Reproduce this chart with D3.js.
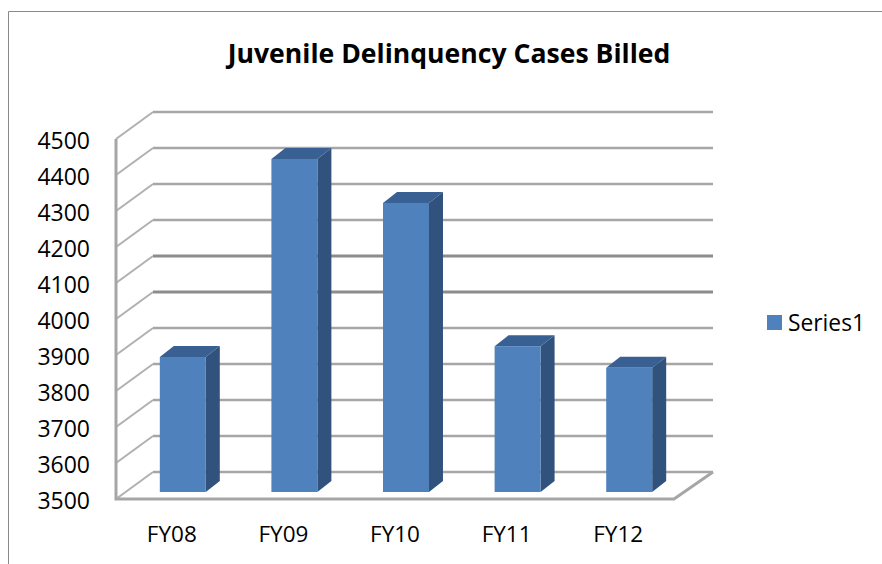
<!DOCTYPE html>
<html>
<head>
<meta charset="utf-8">
<script src="https://cdn.jsdelivr.net/npm/d3@7"></script>
<style>
  html, body { margin: 0; padding: 0; background: #fff; overflow: hidden; }
  svg { display: block; }
  text { font-family: "Open Sans", sans-serif; fill: #000; }
</style>
</head>
<body>
<div id="chart"></div>
<script>
// DATA
var categories = ["FY08", "FY09", "FY10", "FY11", "FY12"]
var values = [3875, 4425, 4303, 3905, 3845]
var yTicks = [3500, 3600, 3700, 3800, 3900, 4000, 4100, 4200, 4300, 4400, 4500]
var heavyTicks = [4000, 4100]
var seriesName = "Series1"
var titleText = "Juvenile Delinquency Cases Billed"

var width = 882, height = 564

// wall depth and bar depth, in pixels
var wall = {dx: 37, dy: -27}
var barDepth = {dx: 14, dy: -11}
var barShift = {dx: 11, dy: -7}

var x = d3.scaleBand().domain(categories).range([116, 674]).paddingInner(0.588).paddingOuter(0.294)
var y = d3.scaleLinear().domain([3500, 4500]).range([499, 139])

var svg = d3.select("#chart").append("svg")
  .attr("width", width)
  .attr("height", height)

// outer frame, only left and top show
svg.append("path")
  .attr("d", "M8.5,564V11.5H882")
  .attr("fill", "none")
  .attr("stroke", "#8a8a8a")
  .attr("stroke-width", 1)

svg.append("text")
  .attr("x", 449)
  .attr("y", 63)
  .attr("text-anchor", "middle")
  .style("font-size", "26.6px")
  .style("font-weight", 700)
  .text(titleText)

// GRIDLINES
var grid = svg.append("g").attr("fill", "none").attr("stroke", "#a6a6a6")

// side wall part
grid.selectAll(".diag")
  .data(yTicks)
  .enter().append("path")
    .attr("class", "diag")
    .attr("stroke-width", 2)
    .attr("stroke", "#b0b0b0")
    .attr("d", d => d3.line()([
      [x.range()[0], y(d)],
      [x.range()[0] + wall.dx, y(d) + wall.dy]
    ]))

// back wall part
grid.selectAll(".back")
  .data(yTicks)
  .enter().append("path")
    .attr("class", "back")
    .attr("stroke-width", d => heavyTicks.includes(d) ? 3 : 2.4)
    .attr("stroke", d => heavyTicks.includes(d) ? "#8c8c8c" : "#a6a6a6")
    .attr("d", d => d3.line()([
      [x.range()[0] + wall.dx, y(d) + wall.dy],
      [713, y(d) + wall.dy]
    ]))

// front wall edge and floor edge
grid.append("path")
  .attr("stroke-width", 3)
  .attr("d", d3.line()([
    [x.range()[0], y(4500)],
    [x.range()[0], y(3500)],
    [x.range()[1], y(3500)],
    [713, y(3500) + wall.dy]
  ]))

// BARS
var bars = svg.selectAll(".bar")
  .data(categories.map((c, i) => ({cat: c, val: values[i]})))
  .enter().append("g")
    .attr("class", "bar")

function barBox(d) {
  var x0 = x(d.cat) + barShift.dx
  return {x0: x0, x1: x0 + x.bandwidth(), top: y(d.val) + barShift.dy, bot: y(3500) + barShift.dy}
}

bars.append("path")
  .attr("fill", "#30527c")
  .attr("d", d => {
    var b = barBox(d)
    return d3.line()([[b.x1, b.top], [b.x1 + barDepth.dx, b.top + barDepth.dy], [b.x1 + barDepth.dx, b.bot + barDepth.dy], [b.x1, b.bot]]) + "Z"
  })

bars.append("path")
  .attr("fill", "#386092")
  .attr("d", d => {
    var b = barBox(d)
    return d3.line()([[b.x0, b.top], [b.x0 + barDepth.dx, b.top + barDepth.dy], [b.x1 + barDepth.dx, b.top + barDepth.dy], [b.x1, b.top]]) + "Z"
  })

bars.append("rect")
  .attr("fill", "#4f81bd")
  .attr("x", d => barBox(d).x0)
  .attr("y", d => barBox(d).top)
  .attr("width", x.bandwidth())
  .attr("height", d => barBox(d).bot - barBox(d).top)

// AXES
var yAxis = svg.append("g")
  .attr("transform", "translate(90,2.5)")
  .call(d3.axisLeft(y).tickValues(yTicks).tickFormat(d3.format("d")).tickSize(0).tickPadding(0))

var xAxis = svg.append("g")
  .attr("transform", "translate(0,526)")
  .call(d3.axisBottom(x).tickSize(0).tickPadding(0))

yAxis.select(".domain").remove()
xAxis.select(".domain").remove()
yAxis.selectAll("text").style("font-size", "23px").attr("fill", "#000")
xAxis.selectAll("text").style("font-size", "22.5px").attr("fill", "#000")

// LEGEND
svg.append("rect")
  .attr("x", 767)
  .attr("y", 315)
  .attr("width", 15)
  .attr("height", 15)
  .attr("fill", "#4f81bd")

svg.append("text")
  .attr("x", 788)
  .attr("y", 331)
  .style("font-size", "22.8px")
  .text(seriesName)
</script>
</body>
</html>
